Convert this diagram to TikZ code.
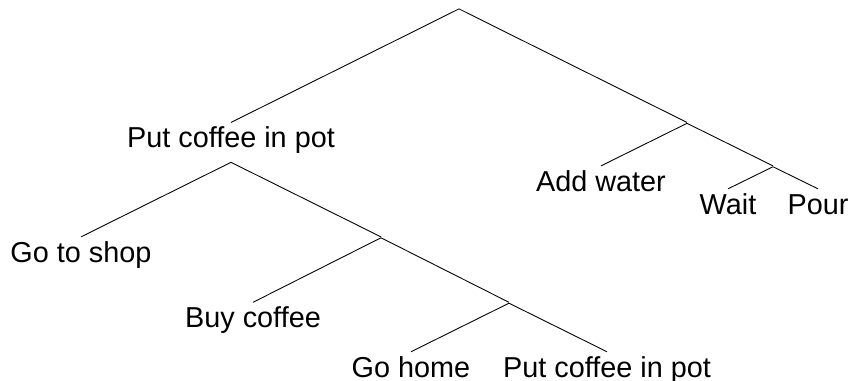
\documentclass[tikz,border=0pt]{standalone}
\usepackage{fontspec}
\setmainfont{Liberation Sans}
\begin{document}
\begin{tikzpicture}[
       edge from parent path=
    {(\tikzparentnode.south) -- (\tikzchildnode.north)},
   every node/.style={anchor=north, inner sep=0.1cm, text height=0.4cm, text depth=0.18cm,
                      font=\fontsize{16.4}{19}\selectfont},
   junction/.style={inner sep=0pt, text height=0pt, text depth=0pt, minimum size=0pt},
   line width=0.5pt]

\useasboundingbox (-9.18,-7.46) rectangle (7.84,0.16);

\node[junction] (root) {}
    child[sibling distance=9.12cm, level distance=2.28cm] {node (pot) {Put coffee in pot}
        child[sibling distance=6cm, level distance=1.89cm] {node (shop) {Go to shop}}
        child[sibling distance=6cm, level distance=1.89cm] {node[junction] (fetch) {}
            child[sibling distance=5.12cm, level distance=1.3cm] {node (buy) {Buy coffee}}
            child[sibling distance=5.12cm, level distance=1.3cm] {node[junction] (back) {}
                child[sibling distance=3.92cm, level distance=0.98cm] {node (home) {Go home}}
                child[sibling distance=3.92cm, level distance=0.98cm] {node (fill) {Put coffee in pot}}
            }
        }
    }
    child[sibling distance=9.12cm, level distance=2.28cm] {node[junction] (brew) {}
        child[sibling distance=3.44cm, level distance=0.86cm] {node (water) {Add water}}
        child[sibling distance=3.44cm, level distance=0.86cm] {node[junction] (serve) {}
            child[sibling distance=1.8cm, level distance=0.45cm] {node (wait) {Wait}}
            child[sibling distance=1.8cm, level distance=0.45cm] {node (pour) {Pour}}
        }
    };

\end{tikzpicture}
\end{document}
